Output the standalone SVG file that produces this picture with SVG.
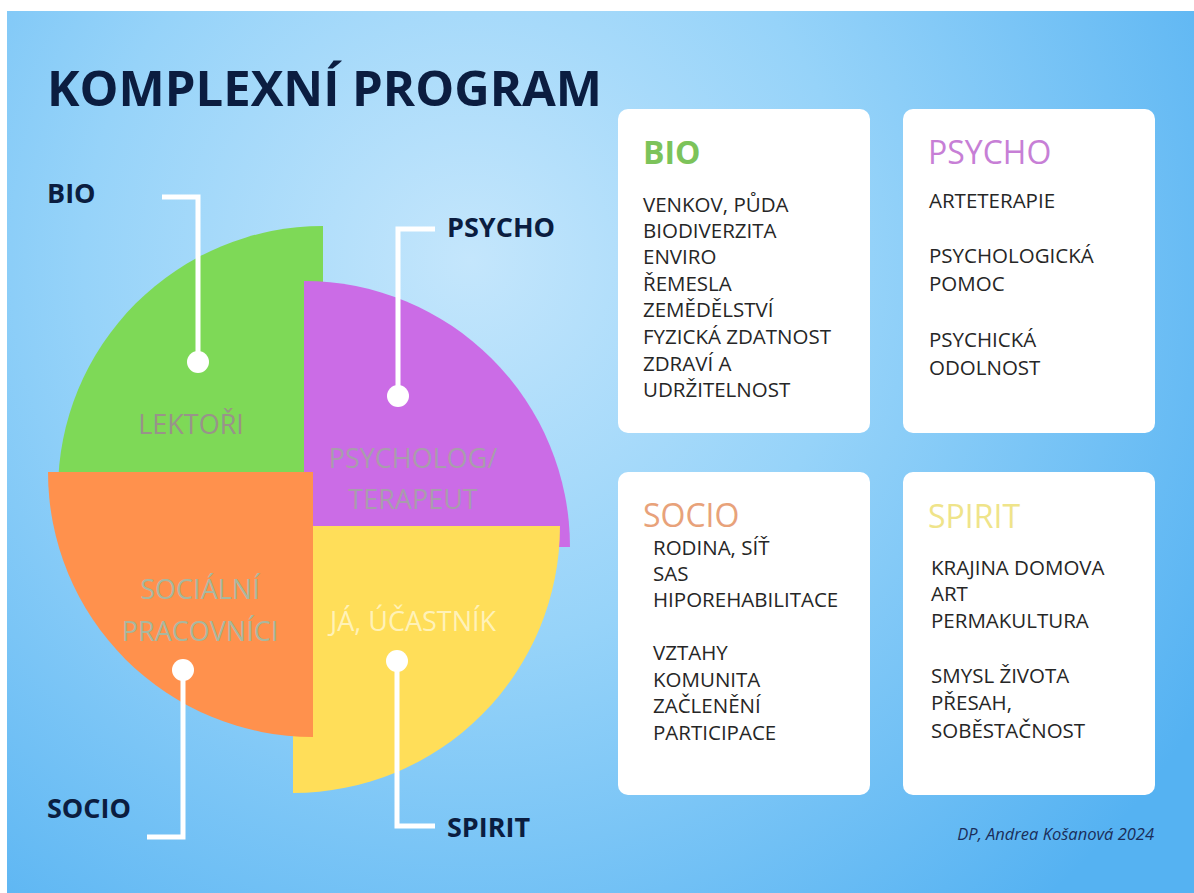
<svg xmlns="http://www.w3.org/2000/svg" width="1194" height="893" viewBox="0 0 1194 893">
<defs>
<radialGradient id="bg" gradientUnits="userSpaceOnUse" cx="470" cy="260" r="860">
<stop offset="0" stop-color="#c4e6fc"/>
<stop offset="0.45" stop-color="#96d3f9"/>
<stop offset="1" stop-color="#55b2f2"/>
</radialGradient>
<style>
.lbl{font-family:"Open Sans","Liberation Sans",sans-serif;font-weight:700;font-size:27px;fill:#0b1d40}
.inner{font-family:"Open Sans","Liberation Sans",sans-serif;font-weight:400;font-size:27px;text-anchor:middle}
.card{fill:#ffffff}
.head{font-family:"Open Sans","Liberation Sans",sans-serif;font-size:32px}
.body{font-family:"Open Sans","Liberation Sans",sans-serif;font-size:20.5px;fill:#262626}
.conn{fill:none;stroke:#ffffff;stroke-width:5}
.dot{fill:#ffffff}
</style>
</defs>
<rect x="0" y="0" width="1194" height="893" fill="#ffffff"/>
<rect x="7" y="11" width="1187" height="882" fill="url(#bg)"/>
<text x="47" y="106" font-family="Open Sans, Liberation Sans, sans-serif" font-weight="700" font-size="49" fill="#0b1d40">KOMPLEXNÍ PROGRAM</text>

<g id="pie">
<path id="slice-bio" d="M323,491 L323,226 A265,265 0 0,0 58,491 Z" fill="#7ed957"/>
<path id="slice-psycho" d="M304,547 L304,281 A266,266 0 0,1 570,547 Z" fill="#cb6ce6"/>
<path id="slice-spirit" d="M293,526 L560,526 A267,267 0 0,1 293,793 Z" fill="#ffde59"/>
<path id="slice-socio" d="M313,472 L313,737 A265,265 0 0,1 48,472 Z" fill="#ff914d"/>
</g>
<g id="inner-labels">
<text class="inner" x="191" y="434" fill="#99938a">LEKTOŘI</text>
<text class="inner" x="413" y="468" fill="#a89dac">PSYCHOLOG/</text>
<text class="inner" x="413" y="509" fill="#a89dac">TERAPEUT</text>
<text class="inner" x="200" y="599" fill="#a8b8a0">SOCIÁLNÍ</text>
<text class="inner" x="200" y="641" fill="#a8b8a0">PRACOVNÍCI</text>
<text class="inner" x="413" y="631" fill="#fff2b8">JÁ, ÚČASTNÍK</text>
</g>

<g id="connectors">
<path class="conn" d="M162,197 H198 V362"/>
<path class="conn" d="M435,229 H398 V396"/>
<path class="conn" d="M183,670 V837 H147"/>
<path class="conn" d="M397,661 V826 H435"/>
<circle class="dot" cx="198" cy="362" r="11"/>
<circle class="dot" cx="398" cy="396" r="11"/>
<circle class="dot" cx="183" cy="670" r="11"/>
<circle class="dot" cx="397" cy="661" r="11"/>
</g>

<g id="label-bio"><text class="lbl" x="47" y="203">BIO</text></g>
<g id="label-psycho"><text class="lbl" x="447" y="237">PSYCHO</text></g>
<g id="label-socio"><text class="lbl" x="47" y="818">SOCIO</text></g>
<g id="label-spirit"><text class="lbl" x="447" y="837">SPIRIT</text></g>

<g id="card-bio">
<rect class="card" x="618" y="109" width="252" height="324" rx="10"/>
<text class="head" x="643" y="164" font-weight="700" fill="#7cc35a">BIO</text>
<text class="body" x="643" y="212">VENKOV, PŮDA</text>
<text class="body" x="643" y="238">BIODIVERZITA</text>
<text class="body" x="643" y="264">ENVIRO</text>
<text class="body" x="643" y="291">ŘEMESLA</text>
<text class="body" x="643" y="317">ZEMĚDĚLSTVÍ</text>
<text class="body" x="643" y="344">FYZICKÁ ZDATNOST</text>
<text class="body" x="643" y="371">ZDRAVÍ A</text>
<text class="body" x="643" y="397">UDRŽITELNOST</text>
</g>

<g id="card-psycho">
<rect class="card" x="903" y="109" width="252" height="324" rx="10"/>
<text class="head" x="928" y="164" font-size="33" fill="#c77fd6">PSYCHO</text>
<text class="body" x="929" y="208">ARTETERAPIE</text>
<text class="body" x="929" y="263">PSYCHOLOGICKÁ</text>
<text class="body" x="929" y="291">POMOC</text>
<text class="body" x="929" y="347">PSYCHICKÁ</text>
<text class="body" x="929" y="375">ODOLNOST</text>
</g>

<g id="card-socio">
<rect class="card" x="618" y="472" width="252" height="323" rx="10"/>
<text class="head" x="643" y="527" fill="#e8a27a">SOCIO</text>
<text class="body" x="653" y="555">RODINA, SÍŤ</text>
<text class="body" x="653" y="581">SAS</text>
<text class="body" x="653" y="607">HIPOREHABILITACE</text>
<text class="body" x="653" y="660">VZTAHY</text>
<text class="body" x="653" y="687">KOMUNITA</text>
<text class="body" x="653" y="713">ZAČLENĚNÍ</text>
<text class="body" x="653" y="740">PARTICIPACE</text>
</g>

<g id="card-spirit">
<rect class="card" x="903" y="472" width="252" height="323" rx="10"/>
<text class="head" x="928" y="528" fill="#efe48a">SPIRIT</text>
<text class="body" x="931" y="575">KRAJINA DOMOVA</text>
<text class="body" x="931" y="601">ART</text>
<text class="body" x="931" y="628">PERMAKULTURA</text>
<text class="body" x="931" y="683">SMYSL ŽIVOTA</text>
<text class="body" x="931" y="710">PŘESAH,</text>
<text class="body" x="931" y="738">SOBĚSTAČNOST</text>
</g>

<text x="1154" y="840" text-anchor="end" font-family="Open Sans, Liberation Sans, sans-serif" font-style="italic" font-size="16.5" fill="#1a2e5a">DP, Andrea Košanová 2024</text>
</svg>
